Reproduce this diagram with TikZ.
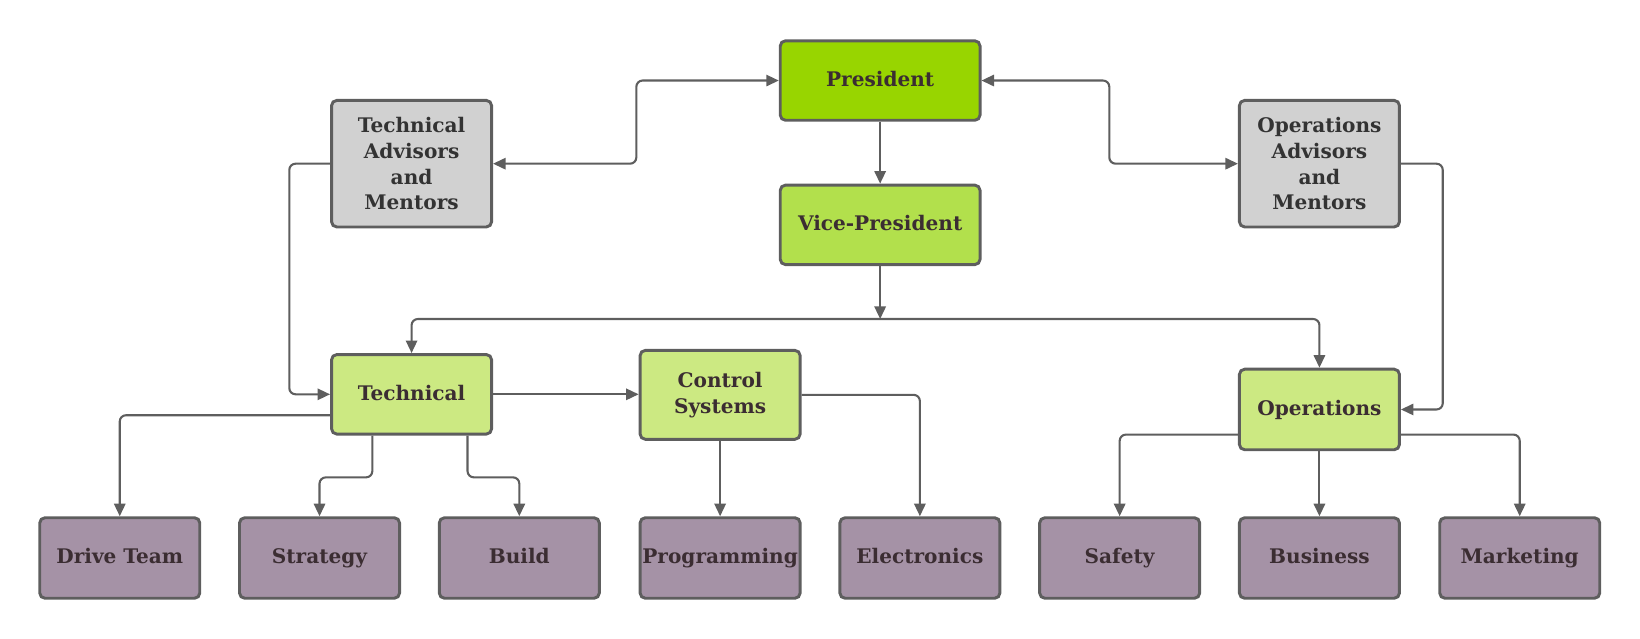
\documentclass[tikz,border=0pt]{standalone}
\usepackage{fontspec}
\setmainfont{DejaVu Serif}
\usepackage{xcolor}
\usetikzlibrary{arrows.meta, positioning, calc}
\definecolor{edge}{RGB}{94,94,94}
\definecolor{ink}{RGB}{59,45,50}
\definecolor{lead}{RGB}{152,213,0}
\definecolor{second}{RGB}{178,224,76}
\definecolor{branch}{RGB}{204,233,130}
\definecolor{advisor}{RGB}{209,209,209}
\definecolor{team}{RGB}{165,146,166}
\tikzset{
  box/.style={draw=edge, line width=1.4pt, rounded corners=2.5pt, minimum width=76.5pt,
    minimum height=38pt, inner sep=1pt, align=center, text=ink,
    font=\bfseries\fontsize{9.6}{12.3}\selectfont},
  oneline/.style={text height=1.55ex, text depth=.45ex},
  topbox/.style={box, oneline, fill=lead, minimum width=95.5pt},
  vpbox/.style={box, oneline, fill=second, minimum width=95.5pt},
  groupbox/.style={box, fill=branch},
  advbox/.style={box, fill=advisor, minimum height=60.5pt, text=black!80},
  teambox/.style={box, oneline, fill=team, minimum height=38.5pt},
}
\tikzstyle{link} = [draw=edge, line width=1pt, rounded corners=3pt, ->, >={Triangle[length=6pt,width=5.4pt]}]

\begin{document}
\begin{tikzpicture}[x=0.5pt, y=-0.5pt]
\useasboundingbox (0,0) rectangle (1568,610);

% top of the tree
\node[topbox] (pres) at (841.5,77) {President};
\node[vpbox] (vp) at (841.5,215) {Vice-President};
\node[advbox] (tadv) at (393.5,156.5) {Technical\\Advisors\\and\\Mentors};
\node[advbox] (oadv) at (1261.5,156.5) {Operations\\Advisors\\and\\Mentors};

% groups
\node[groupbox, oneline] (tech) at (393.5,377) {Technical};
\node[groupbox, minimum height=42.5pt] (ctrl) at (688.5,377.5) {Control\\Systems};
\node[groupbox, oneline, minimum height=38.5pt] (ops) at (1261.5,391.5) {Operations};

% teams
\node[teambox] (drive) at (114.5,533.5) {Drive Team};
\node[teambox] (strat) at (305.5,533.5) {Strategy};
\node[teambox] (build) at (496.5,533.5) {Build};
\node[teambox] (prog) at (688.5,533.5) {Programming};
\node[teambox] (elec) at (879.5,533.5) {Electronics};
\node[teambox] (safe) at (1070.5,533.5) {Safety};
\node[teambox] (biz) at (1261.5,533.5) {Business};
\node[teambox] (mark) at (1453,533.5) {Marketing};

\coordinate (bus) at (841.5,305);

% connectors
\draw[link, <->] (tadv.east) -- ++(137,0) |- (pres.west);
\draw[link, <->] (oadv.west) -- ++(-123,0) |- (pres.east);
\draw[link] (pres) -- (vp);
\draw[link] (vp) -- (bus);
\draw[link, <->] (tech.north) |- (bus) -| (ops.north);
\draw[link] (tadv.west) -- ++(-39,0) |- (tech.west);
\draw[link] (oadv.east) -- ++(40,0) |- (ops.east);
\draw[link] (tech.east) -- (tech.east -| ctrl.west);
\draw[link] ($(tech.west)+(0,20)$) -| (drive.north);
\draw[link] ($(tech.south)+(-37.5,0)$) -- ++(0,40) -| (strat.north);
\draw[link] ($(tech.south)+(53.5,0)$) -- ++(0,40) -| (build.north);
\draw[link] (ctrl) -- (prog);
\draw[link] (ctrl.east) -| (elec.north);
\draw[link] ($(ops.west)+(0,24)$) -| (safe.north);
\draw[link] (ops) -- (biz);
\draw[link] ($(ops.east)+(0,24)$) -| (mark.north);
\end{tikzpicture}
\end{document}
